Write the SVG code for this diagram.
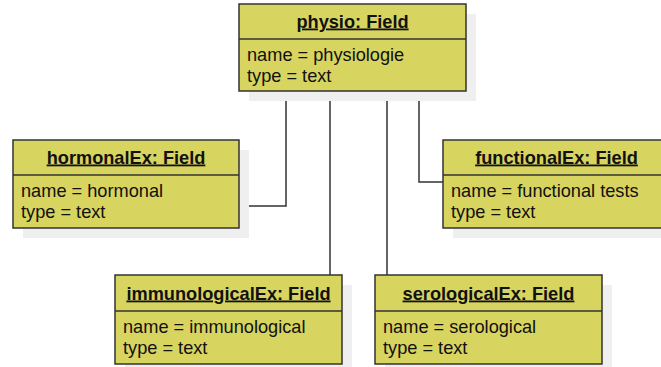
<svg xmlns="http://www.w3.org/2000/svg" width="661" height="367" viewBox="0 0 661 367">
<style>
.sh{fill:#efefef;stroke:none}
.bx{fill:#d8d460;stroke:#333;stroke-width:1.5}
.dv{stroke:#333;stroke-width:1.5}
.t{font-family:"Liberation Sans",Arial,sans-serif;font-size:18.2px;font-weight:bold;fill:#111;text-anchor:middle;text-decoration:underline}
.a{font-family:"Liberation Sans",Arial,sans-serif;font-size:18.2px;fill:#111}
.c{fill:none;stroke:#333;stroke-width:1.5}
</style>
<rect width="661" height="367" fill="#fff"/>
<g id="connectors">
<polyline class="c" points="286,91 286,206 239,206"/>
<polyline class="c" points="419,91 419,182 443,182"/>
<line class="c" x1="330" y1="91" x2="330" y2="275"/>
<line class="c" x1="387" y1="91" x2="387" y2="275"/>
</g>
<g id="physio">
<rect class="sh" x="249" y="14" width="227" height="87"/>
<rect class="bx" x="239" y="4" width="227" height="87"/>
<line class="dv" x1="239" y1="39" x2="466" y2="39"/>
<text class="t" x="352.5" y="27.5">physio: Field</text>
<text class="a" x="247" y="60.5">name = physiologie</text>
<text class="a" x="247" y="81.5">type = text</text>
</g>
<g id="hormonalEx">
<rect class="sh" x="23" y="150" width="226" height="88"/>
<rect class="bx" x="13" y="140" width="226" height="88"/>
<line class="dv" x1="13" y1="175" x2="239" y2="175"/>
<text class="t" x="126" y="163.5">hormonalEx: Field</text>
<text class="a" x="21" y="196.5">name = hormonal</text>
<text class="a" x="21" y="217.5">type = text</text>
</g>
<g id="functionalEx">
<rect class="sh" x="453" y="150" width="227" height="88"/>
<rect class="bx" x="443" y="140" width="227" height="88"/>
<line class="dv" x1="443" y1="175" x2="670" y2="175"/>
<text class="t" x="556.5" y="163.5">functionalEx: Field</text>
<text class="a" x="451" y="196.5">name = functional tests</text>
<text class="a" x="451" y="217.5">type = text</text>
</g>
<g id="immunologicalEx">
<rect class="sh" x="125" y="285" width="227" height="89"/>
<rect class="bx" x="115" y="275" width="227" height="89"/>
<line class="dv" x1="115" y1="311" x2="342" y2="311"/>
<text class="t" x="228.5" y="299.5">immunologicalEx: Field</text>
<text class="a" x="123" y="332.5">name = immunological</text>
<text class="a" x="123" y="353.5">type = text</text>
</g>
<g id="serologicalEx">
<rect class="sh" x="385" y="285" width="227" height="89"/>
<rect class="bx" x="375" y="275" width="227" height="89"/>
<line class="dv" x1="375" y1="311" x2="602" y2="311"/>
<text class="t" x="488.5" y="299.5">serologicalEx: Field</text>
<text class="a" x="383" y="332.5">name = serological</text>
<text class="a" x="383" y="353.5">type = text</text>
</g>
</svg>
